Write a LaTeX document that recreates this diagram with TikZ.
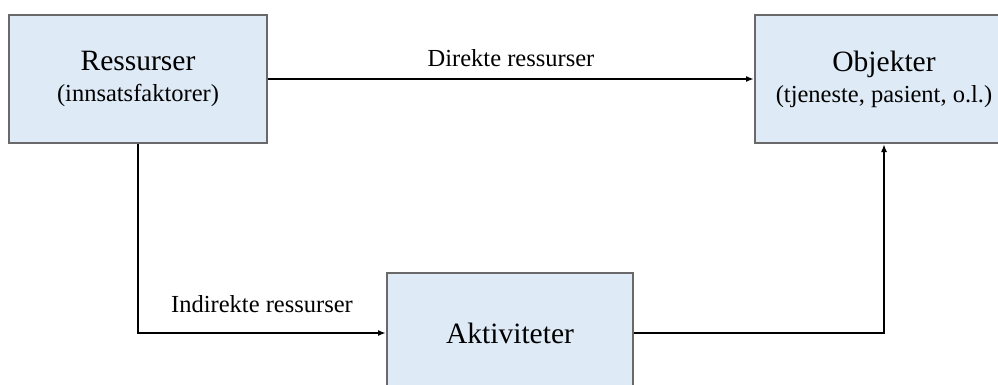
\documentclass[tikz,border=0pt]{standalone}
\usepackage{fontspec}
\setmainfont{Liberation Serif}
\usetikzlibrary{positioning,arrows.meta}

\definecolor{boxfill}{RGB}{222,234,246}
\definecolor{boxline}{RGB}{105,105,105}
\newcommand{\subfont}{\fontsize{24.5}{31}\selectfont}

\begin{document}
\begin{tikzpicture}[
  x=1pt,y=-1pt,
  block/.style={draw=boxline,fill=boxfill,line width=2pt,align=center,
    font={\fontsize{29.5}{31}\selectfont}},
  flow/.style={line width=1.6pt,-{Latex[length=8pt,width=6pt]}},
  lbl/.style={font=\subfont,inner sep=2pt}
]
  \useasboundingbox (0,0) rectangle (998,385);
  \clip (0,0) rectangle (998,385);

  \node[block,minimum width=258pt,minimum height=128pt] (ressurser) at (138,79)
    {Ressurser\\{\subfont (innsatsfaktorer)}};
  \node[block,minimum width=258pt,minimum height=128pt,right=486pt of ressurser] (objekter)
    {Objekter\\{\subfont (tjeneste, pasient, o.l.)}};
  \node[block,minimum width=246pt,minimum height=120pt] (aktiviteter) at (510,333)
    {Aktiviteter};

  \draw[flow] (ressurser) -- node[lbl,above=9pt] {Direkte ressurser} (objekter);
  \draw[flow] (ressurser) |- node[lbl,pos=0.75,above=17pt] {Indirekte ressurser} (aktiviteter);
  \draw[flow] (aktiviteter) -| (objekter);
\end{tikzpicture}
\end{document}
